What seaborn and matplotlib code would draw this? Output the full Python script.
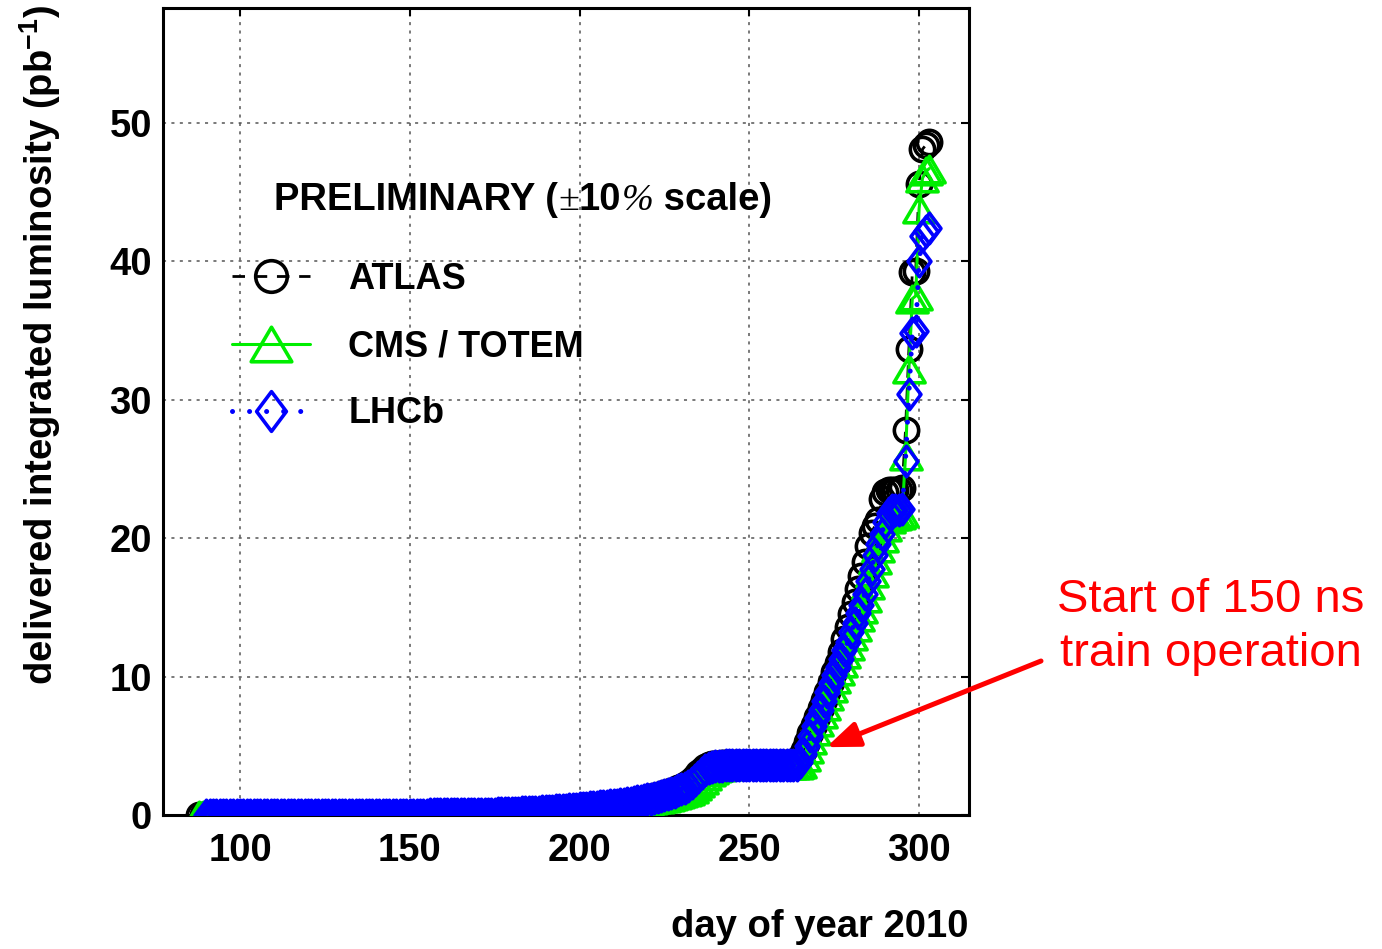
import numpy as np
import pandas as pd
import matplotlib
matplotlib.use("Agg")
import matplotlib.pyplot as plt
from matplotlib.path import Path
from matplotlib.markers import MarkerStyle
from matplotlib.offsetbox import TextArea, HPacker, AnchoredOffsetbox
import seaborn as sns

# ---------------------------------------------------------------------------
# Delivered integrated luminosity per day of 2010 (pb^-1), one value per day
# ---------------------------------------------------------------------------
atlas_first_day = 88
atlas_lumi = [
    0.000, 0.000,
    0.000, 0.001, 0.001, 0.001, 0.001, 0.002, 0.002, 0.002, 0.002, 0.002,
    0.003, 0.003, 0.003, 0.003, 0.003, 0.004, 0.004, 0.004, 0.004, 0.005,
    0.005, 0.005, 0.005, 0.006, 0.006, 0.006, 0.006, 0.007, 0.007, 0.007,
    0.008, 0.008, 0.009, 0.009, 0.010, 0.010, 0.011, 0.011, 0.012, 0.013,
    0.013, 0.014, 0.015, 0.015, 0.016, 0.017, 0.018, 0.019, 0.020, 0.021,
    0.022, 0.023, 0.024, 0.025, 0.026, 0.027, 0.029, 0.030, 0.031, 0.033,
    0.034, 0.036, 0.038, 0.040, 0.042, 0.044, 0.046, 0.049, 0.051, 0.054,
    0.057, 0.060, 0.063, 0.067, 0.071, 0.075, 0.079, 0.084, 0.089, 0.094,
    0.099, 0.105, 0.111, 0.118, 0.125, 0.133, 0.141, 0.150, 0.159, 0.169,
    0.179, 0.190, 0.202, 0.215, 0.229, 0.244, 0.259, 0.275, 0.292, 0.309,
    0.327, 0.345, 0.364, 0.383, 0.403, 0.423, 0.444, 0.465, 0.487, 0.509,
    0.532, 0.555, 0.579, 0.603, 0.628, 0.653, 0.678, 0.704, 0.730, 0.756,
    0.782, 0.808, 0.835, 0.870, 0.910, 0.950, 1.000, 1.050, 1.100, 1.160,
    1.22, 1.28, 1.34, 1.41, 1.48, 1.56, 1.64, 1.73, 1.82, 1.92,
    2.02, 2.16, 2.33, 2.54, 2.78, 3.04, 3.28, 3.46, 3.58, 3.66,
    3.70, 3.72, 3.73, 3.74, 3.74, 3.74, 3.74, 3.74, 3.74, 3.74,
    3.74, 3.74, 3.74, 3.74, 3.74, 3.74, 3.74, 3.74, 3.74, 3.74,
    3.74, 3.74, 3.75, 3.76, 3.85, 4.20, 4.70, 5.30, 5.90, 6.50,
    7.1, 7.7, 8.3, 8.9, 9.6, 10.3, 11.0, 11.8, 12.7, 13.6,
    14.5, 15.4, 16.3, 17.3, 18.3, 19.4, 20.4, 20.9, 21.3, 22.8,
    23.3, 23.5, 23.5, 23.5, 23.5, 23.6, 27.8, 33.7, 39.2, 39.3,
    45.6, 48.1, 48.4, 48.6,
]

cms_first_day = 88
cms_lumi = [
    0.000, 0.000,
    0.000, 0.000, 0.001, 0.001, 0.001, 0.001, 0.001, 0.001, 0.002, 0.002,
    0.002, 0.002, 0.002, 0.003, 0.003, 0.003, 0.003, 0.003, 0.003, 0.004,
    0.004, 0.004, 0.004, 0.004, 0.005, 0.005, 0.005, 0.005, 0.005, 0.006,
    0.006, 0.006, 0.007, 0.007, 0.007, 0.008, 0.008, 0.009, 0.009, 0.010,
    0.010, 0.011, 0.011, 0.012, 0.012, 0.013, 0.014, 0.014, 0.015, 0.016,
    0.016, 0.017, 0.018, 0.019, 0.020, 0.021, 0.022, 0.023, 0.024, 0.025,
    0.026, 0.027, 0.029, 0.030, 0.032, 0.033, 0.035, 0.037, 0.039, 0.041,
    0.043, 0.045, 0.047, 0.050, 0.053, 0.056, 0.059, 0.063, 0.066, 0.070,
    0.074, 0.079, 0.084, 0.089, 0.095, 0.101, 0.108, 0.115, 0.123, 0.131,
    0.140, 0.150, 0.160, 0.171, 0.183, 0.196, 0.209, 0.223, 0.238, 0.253,
    0.269, 0.285, 0.302, 0.320, 0.338, 0.357, 0.376, 0.396, 0.416, 0.437,
    0.458, 0.480, 0.502, 0.525, 0.548, 0.572, 0.596, 0.620, 0.645, 0.670,
    0.695, 0.720, 0.745, 0.770, 0.800, 0.840, 0.880, 0.920, 0.960, 1.000,
    1.04, 1.08, 1.12, 1.16, 1.20, 1.25, 1.30, 1.36, 1.42, 1.49,
    1.56, 1.64, 1.74, 1.88, 2.06, 2.28, 2.54, 2.82, 3.08, 3.28,
    3.42, 3.50, 3.55, 3.57, 3.58, 3.58, 3.58, 3.58, 3.58, 3.58,
    3.58, 3.58, 3.58, 3.58, 3.58, 3.58, 3.58, 3.58, 3.58, 3.58,
    3.58, 3.58, 3.58, 3.58, 3.60, 3.70, 4.20, 4.80, 5.40, 6.10,
    6.7, 7.3, 7.9, 8.6, 9.2, 9.8, 10.4, 11.0, 11.6, 12.2,
    12.9, 13.6, 14.3, 14.9, 15.7, 16.6, 17.5, 18.4, 19.3, 20.0,
    20.8, 21.4, 21.6, 21.6, 21.7, 21.8, 25.9, 32.2, 37.3, 37.5,
    43.8, 46.0, 46.5, 46.7,
]

lhcb_first_day = 90
lhcb_lumi = [
    0.000, 0.000, 0.001, 0.001, 0.001, 0.001, 0.001, 0.002, 0.002, 0.002,
    0.002, 0.002, 0.003, 0.003, 0.003, 0.003, 0.003, 0.003, 0.004, 0.004,
    0.004, 0.004, 0.004, 0.005, 0.005, 0.005, 0.005, 0.005, 0.006, 0.006,
    0.006, 0.006, 0.007, 0.007, 0.008, 0.008, 0.009, 0.009, 0.010, 0.010,
    0.011, 0.011, 0.012, 0.012, 0.013, 0.013, 0.014, 0.015, 0.016, 0.016,
    0.017, 0.018, 0.019, 0.020, 0.021, 0.022, 0.023, 0.024, 0.025, 0.026,
    0.027, 0.029, 0.030, 0.032, 0.034, 0.035, 0.037, 0.039, 0.041, 0.043,
    0.045, 0.047, 0.050, 0.053, 0.056, 0.059, 0.062, 0.066, 0.070, 0.074,
    0.078, 0.083, 0.088, 0.094, 0.100, 0.107, 0.114, 0.122, 0.130, 0.139,
    0.148, 0.158, 0.169, 0.181, 0.194, 0.208, 0.222, 0.237, 0.252, 0.268,
    0.285, 0.302, 0.320, 0.338, 0.357, 0.376, 0.396, 0.416, 0.437, 0.458,
    0.480, 0.502, 0.525, 0.548, 0.572, 0.596, 0.620, 0.645, 0.670, 0.695,
    0.720, 0.745, 0.770, 0.800, 0.840, 0.880, 0.930, 0.980, 1.030, 1.080,
    1.13, 1.18, 1.24, 1.30, 1.37, 1.44, 1.52, 1.60, 1.68, 1.77,
    1.86, 1.98, 2.12, 2.30, 2.52, 2.78, 3.02, 3.22, 3.38, 3.48,
    3.52, 3.55, 3.57, 3.58, 3.58, 3.58, 3.58, 3.58, 3.58, 3.58,
    3.58, 3.58, 3.58, 3.58, 3.58, 3.58, 3.58, 3.58, 3.58, 3.58,
    3.58, 3.58, 3.59, 3.60, 3.60, 3.80, 4.40, 5.00, 5.70, 6.40,
    7.0, 7.6, 8.2, 8.9, 9.5, 10.1, 10.7, 11.3, 11.9, 12.5,
    13.2, 13.9, 14.6, 15.2, 16.0, 16.9, 17.8, 18.8, 19.6, 20.3,
    21.2, 21.8, 22.0, 22.0, 22.0, 22.1, 25.6, 30.4, 34.8, 35.0,
    40.0, 41.8, 42.2, 42.4,
]

series_names = ["ATLAS", "CMS / TOTEM", "LHCb"]
x_ticks = [100, 150, 200, 250, 300]
y_ticks = [0, 10, 20, 30, 40, 50]


def daily(first_day, values):
    days = first_day + np.arange(len(values))
    return pd.DataFrame({"day": days, "lumi": values})


atlas_df = daily(atlas_first_day, atlas_lumi)
cms_df = daily(cms_first_day, cms_lumi)
lhcb_df = daily(lhcb_first_day, lhcb_lumi)

# ---------------------------------------------------------------------------
# Styling
# ---------------------------------------------------------------------------
sns.set_theme(style="white")
plt.rcParams["font.family"] = ["Liberation Sans", "DejaVu Sans"]
plt.rcParams["font.weight"] = "bold"
plt.rcParams["text.color"] = "black"
plt.rcParams["axes.labelcolor"] = "black"
plt.rcParams["xtick.color"] = "black"
plt.rcParams["ytick.color"] = "black"
plt.rcParams["mathtext.fontset"] = "custom"
plt.rcParams["mathtext.rm"] = "Liberation Sans:bold"
plt.rcParams["mathtext.bf"] = "Liberation Sans:bold"
plt.rcParams["mathtext.it"] = "Liberation Sans:bold"
plt.rcParams["mathtext.default"] = "rm"

W, H = 1382, 949
fig = plt.figure(figsize=(W / 100, H / 100), dpi=100)
fig.patch.set_facecolor("white")
ax = fig.add_axes([163 / W, 1 - 815 / H, (969 - 163) / W, (815 - 8) / H])
ax.set_facecolor("white")

# open thin diamond and open wide triangle
diamond = MarkerStyle(Path([(0, 1), (0.75, 0), (0, -1), (-0.75, 0), (0, 1)],
                           [Path.MOVETO, Path.LINETO, Path.LINETO, Path.LINETO,
                            Path.CLOSEPOLY]))
triangle = MarkerStyle(Path([(0, 0.85), (1, -0.85), (-1, -0.85), (0, 0.85)],
                            [Path.MOVETO, Path.LINETO, Path.LINETO,
                             Path.CLOSEPOLY]))

EDGE = 2.6
sns.lineplot(data=atlas_df, x="day", y="lumi", ax=ax, estimator=None,
             sort=False, legend=False, color="black",
             linestyle=(0, (4.5, 3.5)), linewidth=2.0,
             marker="o", markersize=17.5, markerfacecolor="none",
             markeredgecolor="black", markeredgewidth=EDGE, zorder=3)
sns.lineplot(data=cms_df, x="day", y="lumi", ax=ax, estimator=None,
             sort=False, legend=False, color="#00ee00",
             linestyle="-", linewidth=2.2,
             marker=triangle, markersize=22.5, markerfacecolor="none",
             markeredgecolor="#00ee00", markeredgewidth=EDGE, zorder=4)
sns.lineplot(data=lhcb_df, x="day", y="lumi", ax=ax, estimator=None,
             sort=False, legend=False, color="#0000ff",
             linestyle=(0, (0.01, 3.4)), linewidth=3.6,
             dash_capstyle="round",
             marker=diamond, markersize=22, markerfacecolor="none",
             markeredgecolor="#0000ff", markeredgewidth=EDGE, zorder=5)

ax.set_xlim(77.3, 314.7)
ax.set_ylim(0, 58.3)
ax.set_xticks(x_ticks)
ax.set_yticks(y_ticks)
ax.set_xticklabels([str(v) for v in x_ticks])
ax.set_yticklabels([str(v) for v in y_ticks])
ax.tick_params(axis="both", which="major", direction="in", length=6,
               width=1.5, labelsize=27.5, colors="black", top=True,
               right=True)
ax.tick_params(axis="x", pad=13)
ax.tick_params(axis="y", pad=8)
for lab in ax.get_xticklabels() + ax.get_yticklabels():
    lab.set_fontweight("bold")

ax.grid(True, color="#555555", linestyle=(0, (2, 3.5)), linewidth=1.1)
ax.set_axisbelow(True)
for sp in ax.spines.values():
    sp.set_color("black")
    sp.set_linewidth(2.2)
    sp.set_visible(True)

ax.set_xlabel("day of year 2010", fontsize=27.5, fontweight="bold",
              color="black", ha="right", va="center")
ax.xaxis.set_label_coords(1.0, -(927 - 815) / 807)
ax.set_ylabel(r"delivered integrated luminosity (pb$^{-1}$)", fontsize=27.5,
              fontweight="bold", color="black", ha="right", va="center")
ax.yaxis.set_label_coords((40 - 163) / 806, (815 - 5) / 807)

# legend
handles = ax.lines[:3]
leg = ax.legend(handles, series_names, loc="upper left",
                bbox_to_anchor=(232 / W, 1 - 262 / H),
                bbox_transform=fig.transFigure, frameon=False,
                borderpad=0, borderaxespad=0, handlelength=2.17,
                handletextpad=1.05, labelspacing=0.89, markerscale=1.3,
                numpoints=1, labelcolor="black",
                prop={"family": "Liberation Sans", "weight": "bold",
                      "size": 26})

# header line with a serif plus-minus and percent sign
sans_b = dict(family="Liberation Sans", weight="bold", size=27.5,
              color="black")
pieces = [
    TextArea("PRELIMINARY (", textprops=sans_b),
    TextArea("\u00b1", textprops=dict(family="Liberation Serif",
                                      weight="normal", size=27.5,
                                      color="black")),
    TextArea("10", textprops=sans_b),
    TextArea("%", textprops=dict(family="Liberation Serif", style="italic",
                                 weight="normal", size=27.5, color="black")),
    TextArea(" scale)", textprops=sans_b),
]
header = HPacker(children=pieces, align="baseline", pad=0, sep=0)
anchored = AnchoredOffsetbox(loc="center left", child=header, pad=0,
                             borderpad=0, frameon=False,
                             bbox_to_anchor=(274 / W, 1 - 200 / H),
                             bbox_transform=fig.transFigure)
ax.add_artist(anchored)

# annotation of the 150 ns bunch-train start
ax.annotate("", xy=(272.7, 4.9), xycoords="data",
            xytext=(1041 / W, 1 - 661 / H), textcoords="figure fraction",
            arrowprops=dict(arrowstyle="-|>,head_length=0.9,head_width=0.35",
                            mutation_scale=22, color="#ff0000", lw=3.6,
                            shrinkA=0, shrinkB=0),
            annotation_clip=False, zorder=10)
fig.text(1211 / W, 1 - 627 / H, "Start of 150 ns\ntrain operation",
         ha="center", va="center", color="#ff0000", fontsize=34,
         family="Liberation Sans", fontweight="normal", linespacing=1.32)

fig.savefig("out.png", dpi=100, facecolor="white")
